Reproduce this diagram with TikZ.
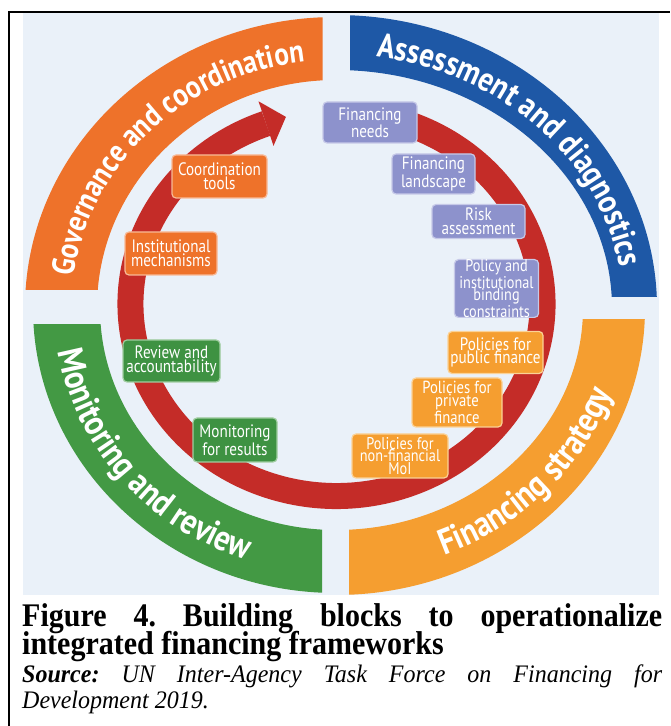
\documentclass[tikz,border=0pt]{standalone}
\usepackage{fontspec}
\setmainfont{Liberation Serif}
\newfontfamily\boxfont[FakeStretch=0.84]{PT Sans}
\newfontfamily\bandfont[FakeStretch=0.85]{PT Sans}
\usetikzlibrary{decorations.text}
\definecolor{bgblue}{RGB}{234,241,249}
\definecolor{govc}{RGB}{238,114,42}
\definecolor{assc}{RGB}{30,88,166}
\definecolor{monc}{RGB}{67,153,68}
\definecolor{finc}{RGB}{245,158,48}
\definecolor{ringc}{RGB}{196,44,40}
\definecolor{govl}{RGB}{248,185,150}
\definecolor{bluebox}{RGB}{141,146,204}
\definecolor{bluel}{RGB}{198,201,232}
\definecolor{finl}{RGB}{251,210,150}
\definecolor{greenbox}{RGB}{62,146,66}
\definecolor{monl}{RGB}{160,205,160}
\begin{document}
\begin{tikzpicture}[x=1pt,y=1pt,
  box/.style={rounded corners=4pt, line width=1.2pt, align=center, text=white, inner sep=0pt,
    font=\boxfont\fontsize{18}{13.6}\selectfont},
  govbox/.style={box, fill=govc, draw=govl},
  assbox/.style={box, fill=bluebox, draw=bluel},
  finbox/.style={box, fill=finc, draw=finl},
  monbox/.style={box, fill=greenbox, draw=monl},
  bandtext/.style 2 args={decorate, decoration={text along path, text align=center,
    text={|\bandfont\bfseries\fontsize{#1}{#1}\selectfont\color{white}|#2}}},
  capline/.style={anchor=base west, inner sep=0pt}
]
\useasboundingbox (0,0) rectangle (670,726);
% background and frame
\fill[bgblue] (23,131) rectangle (659,713);
\draw[line width=2pt] (9,0) -- (9,714) -- (670,714);
% outer bands
\coordinate (C) at (336,418);
\begin{scope}
  \clip (0,436) rectangle (322.5,726);
  \fill[govc, even odd rule] (C) ellipse [x radius=311, y radius=291] (C) ellipse [x radius=239, y radius=228];
\end{scope}
\begin{scope}
  \clip (350,429) rectangle (670,726);
  \fill[assc, even odd rule] (C) ellipse [x radius=321, y radius=293] (C) ellipse [x radius=276, y radius=238];
\end{scope}
\begin{scope}
  \clip (0,0) rectangle (322,401);
  \fill[monc, even odd rule] (C) ellipse [x radius=303, y radius=285] (C) ellipse [x radius=236, y radius=222];
\end{scope}
\begin{scope}
  \clip (349,0) rectangle (670,406);
  \fill[finc, even odd rule] (C) ellipse [x radius=309, y radius=287] (C) ellipse [x radius=247, y radius=222];
\end{scope}
% band texts
\path[bandtext={32}{Governance and coordination}] (72,418) arc[start angle=180, end angle=90, x radius=264, y radius=248];
\path[bandtext={34}{Assessment and diagnostics}] (336,672) arc[start angle=90, end angle=0, x radius=287, y radius=254];
\path[bandtext={36}{Monitoring and review}] (55.5,441.2) arc[start angle=175, end angle=265, x radius=282, y radius=266];
\path[bandtext={36}{Financing strategy}] (348.7,152) arc[start angle=272.5, end angle=362.5, x radius=291, y radius=266];
% red ring with arrow
\coordinate (rs) at (406.96,602.42);
\draw[ringc, line width=26pt] (rs) arc[start angle=70, end angle=-250, x radius=206, y radius=192];
\coordinate (ha) at (258.5,624.7);
\coordinate (ht) at (285.9,609.1);
\coordinate (hb) at (273.5,580.1);
\fill[ringc] (ha) -- (ht) -- (hb) -- cycle;
% boxes
\node[govbox, minimum width=95, minimum height=43] (coord) at (219.5,549.5) {Coordination\\tools};
\node[govbox, minimum width=92, minimum height=43] (inst) at (171,472.5) {Institutional\\mechanisms};
\node[assbox, minimum width=94, minimum height=41] (needs) at (370,603.5) {Financing\\needs};
\node[assbox, minimum width=83, minimum height=40] (landsc) at (433.5,552) {Financing\\landscape};
\node[assbox, minimum width=93, minimum height=34] (risk) at (478.5,504.5) {Risk\\assessment};
\node[assbox, minimum width=84, minimum height=55, font=\boxfont\fontsize{17}{12.4}\selectfont] (policy) at (496.5,437.5) {Policy and\\institutional\\binding\\constraints};
\node[finbox, minimum width=95, minimum height=42] (public) at (495.5,373.5) {Policies for\\public finance};
\node[finbox, minimum width=90, minimum height=49, font=\boxfont\fontsize{17.5}{13}\selectfont] (private) at (457,323.5) {Policies for\\private\\finance};
\node[finbox, minimum width=96, minimum height=44, font=\boxfont\fontsize{17}{12.6}\selectfont] (nonfin) at (400,270) {Policies for\\non-financial\\MoI};
\node[monbox, minimum width=97, minimum height=42] (review) at (171.5,365) {Review and\\accountability};
\node[monbox, minimum width=84, minimum height=44] (monit) at (235,286) {Monitoring\\for results};
% caption
\node[capline, font=\bfseries\fontsize{30}{30}\selectfont] (cap1) at (22,99)
  {\scalebox{1}[1.1]{\hbox to 640pt{Figure\hfill 4.\hfill Building\hfill blocks\hfill to\hfill operationalize}}};
\node[capline, font=\bfseries\fontsize{30}{30}\selectfont] (cap2) at (22,71) {\scalebox{1}[1.1]{integrated financing frameworks}};
\node[capline, font=\itshape\fontsize{24}{24}\selectfont] (cap3) at (22,43)
  {\scalebox{1}[1.05]{\hbox to 640pt{\textbf{Source:}\hfill UN\hfill Inter-Agency\hfill Task\hfill Force\hfill on\hfill Financing\hfill for}}};
\node[capline, font=\itshape\fontsize{24}{24}\selectfont] (cap4) at (22,18) {\scalebox{1}[1.05]{Development 2019.}};
\end{tikzpicture}
\end{document}
